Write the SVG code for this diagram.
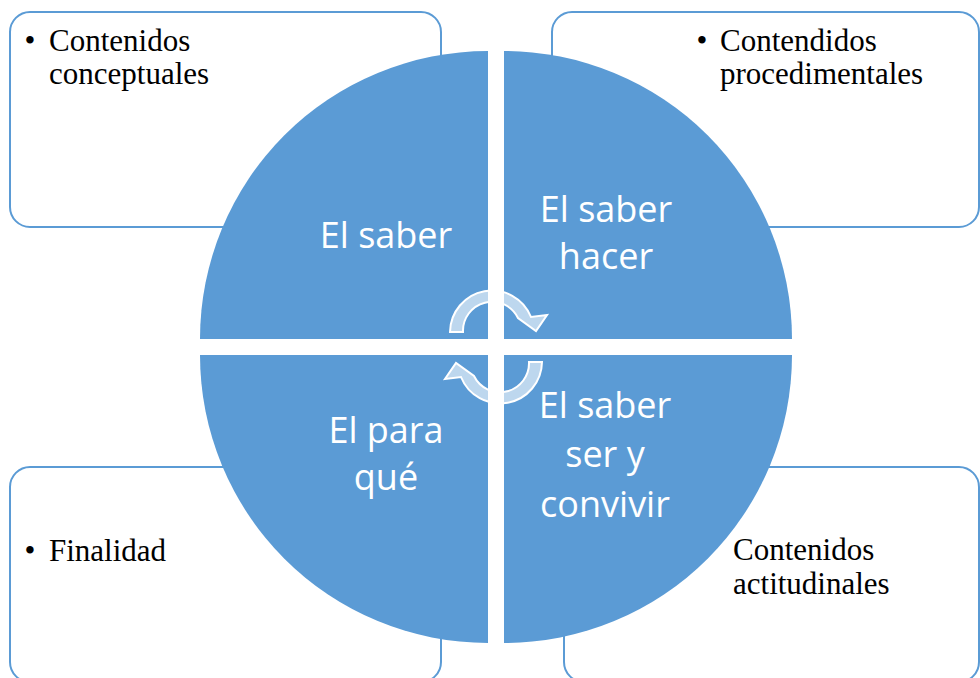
<svg xmlns="http://www.w3.org/2000/svg" width="980" height="678" viewBox="0 0 980 678">
<style>
.box{fill:#FFFFFF;stroke:#5B9BD5;stroke-width:2}
.seg{fill:#5B9BD5}
.t{font-family:"Liberation Serif","Times New Roman",serif;font-size:31px;fill:#000000}
.q{font-family:"Open Sans","Noto Sans",sans-serif;font-size:36px;fill:#FFFFFF;text-anchor:middle}
.arr{fill:#FFFFFF;fill-opacity:0.6;stroke:#FFFFFF;stroke-width:2;stroke-linejoin:miter}
</style>
<rect width="980" height="678" fill="#FFFFFF"/>
<g id="box-tl">
<rect class="box" x="10" y="12" width="431" height="215" rx="20"/>
<text class="t" x="30" y="51" text-anchor="middle">•</text>
<text class="t" x="49" y="51">Contenidos</text>
<text class="t" x="49" y="84">conceptuales</text>
</g>
<g id="box-tr">
<rect class="box" x="552" y="12" width="427" height="215" rx="20"/>
<text class="t" x="702" y="51" text-anchor="middle">•</text>
<text class="t" x="720" y="51">Contendidos</text>
<text class="t" x="720" y="84">procedimentales</text>
</g>
<g id="box-bl">
<rect class="box" x="10" y="467" width="431" height="215" rx="20"/>
<text class="t" x="30" y="561" text-anchor="middle">•</text>
<text class="t" x="49" y="561">Finalidad</text>
</g>
<g id="box-br">
<rect class="box" x="564" y="467" width="415" height="215" rx="20"/>
<text class="t" x="733" y="560">Contenidos</text>
<text class="t" x="733" y="594">actitudinales</text>
</g>
<g id="q-tl">
<path class="seg" d="M488,339 L200,339 A288,288 0 0 1 488,51 Z"/>
<text class="q" x="386" y="248">El saber</text>
</g>
<g id="q-tr">
<path class="seg" d="M504,339 L504,51 A288,288 0 0 1 792,339 Z"/>
<text class="q" x="606" y="222">El saber</text>
<text class="q" x="606" y="269">hacer</text>
</g>
<g id="q-bl">
<path class="seg" d="M488,355 L488,643 A288,288 0 0 1 200,355 Z"/>
<text class="q" x="386" y="443">El para</text>
<text class="q" x="386" y="490">qué</text>
</g>
<g id="q-br">
<path class="seg" d="M504,355 L792,355 A288,288 0 0 1 504,643 Z"/>
<text class="q" x="605" y="418">El saber</text>
<text class="q" x="605" y="467">ser y</text>
<text class="q" x="605" y="517">convivir</text>
</g>
<g id="connectors">
<path class="arr" d="M450,332 A42,42 0 0 1 531,317 L547,315 L536,331 L518,318 A29,29 0 0 0 463,332 Z"/>
<path class="arr" transform="rotate(180 496 347)" d="M450,332 A42,42 0 0 1 531,317 L547,315 L536,331 L518,318 A29,29 0 0 0 463,332 Z"/>
</g>
</svg>
